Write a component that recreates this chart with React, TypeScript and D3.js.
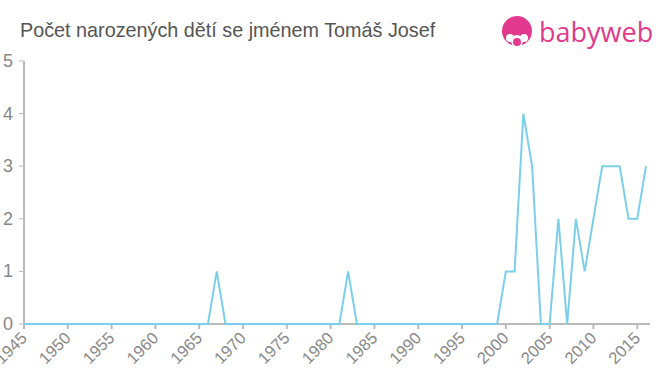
import * as d3 from 'd3';

const years = d3.range(1945, 2017);
// non-zero counts by year, everything else is 0
const nonZeroYears = [1967, 1982, 2000, 2001, 2002, 2003, 2006, 2008, 2009, 2010, 2011, 2012, 2013, 2014, 2015, 2016];
const nonZeroCounts = [1, 1, 1, 1, 4, 3, 2, 2, 1, 2, 3, 3, 3, 2, 2, 3];
const xTicks = [1945, 1950, 1955, 1960, 1965, 1970, 1975, 1980, 1985, 1990, 1995, 2000, 2005, 2010, 2015];
const yTicks = [0, 1, 2, 3, 4, 5];

const title = 'Počet narozených dětí se jménem Tomáš Josef';

const App = () => {
  const width = 660;
  const height = 375;
  const margin = { top: 61, right: 14, bottom: 51, left: 24 };
  const innerHeight = height - margin.top - margin.bottom;

  const data = years.map((y) => {
    const i = nonZeroYears.indexOf(y);
    return { year: y, value: i >= 0 ? nonZeroCounts[i] : 0 };
  });

  const xScale = d3.scaleLinear().domain([1945, 2016]).range([0, 622]);
  const yScale = d3.scaleLinear().domain([0, 5]).range([innerHeight, 0]);

  const line = d3.line<any>()
    .x((d) => xScale(d.year))
    .y((d) => yScale(d.value));

  const font = '"Liberation Sans", Arial, sans-serif';
  const pink = '#e2388d';

  return (
    <svg width={width} height={height} style={{ position: 'absolute', left: 0, top: 0, fontFamily: font }}>
      <rect width={width} height={height} fill="#fff" />
      <text x={20} y={37} fontSize={19.8} fill="#555">{title}</text>

      {/* logo */}
      <g transform="translate(517, 33)">
        <circle cx={0} cy={-2} r={15} fill={pink} />
        <circle cx={-7} cy={5} r={4} fill="#fff" />
        <circle cx={7} cy={5} r={4} fill="#fff" />
        <circle cx={0} cy={8} r={6} fill="#fff" />
        <circle cx={0} cy={9} r={4} fill={pink} />
        <text x={22} y={9} fontSize={27} fill={pink} fontFamily='"Open Sans", sans-serif'>babyweb</text>
      </g>

      <g transform={`translate(${margin.left}, ${margin.top})`}>
        <line stroke="#bbb" strokeWidth={2} x1={0} x2={0} y1={0} y2={innerHeight} />
        {yTicks.map((t) => (
          <g key={t} transform={`translate(0, ${yScale(t)})`}>
            <line stroke="#bbb" strokeWidth={1} x1={-5} x2={0} y1={0} y2={0} />
            <text x={-11} y={6} fontSize={18} fill="#888" textAnchor="end">{t}</text>
          </g>
        ))}
        <line stroke="#bbb" strokeWidth={2} x1={0} x2={626} y1={innerHeight} y2={innerHeight} />
        {xTicks.map((t) => (
          <g key={t} transform={`translate(${xScale(t)}, ${innerHeight})`}>
            <line stroke="#bbb" strokeWidth={2} x1={0} x2={0} y1={0} y2={5} />
            <text
              transform="translate(4, 15) rotate(-45)"
              fontSize={16.5}
              fill="#888"
              textAnchor="end"
            >{t}</text>
          </g>
        ))}
        <path d={line(data)} fill="none" stroke="#7ccfea" strokeWidth={2} />
      </g>
    </svg>
  );
};

export default App;
